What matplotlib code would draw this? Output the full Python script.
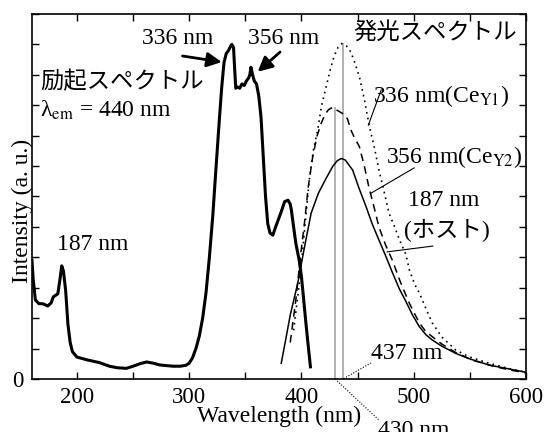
import matplotlib
matplotlib.use("Agg")
import matplotlib.pyplot as plt
import numpy as np

plt.rcParams['font.family'] = ['Liberation Serif', 'Noto Sans CJK JP']
plt.rcParams['mathtext.fontset'] = 'stix'

# Excitation spectrum (lambda_em = 440 nm)
exc_wl = [160, 161, 163, 166, 170, 174, 177, 179, 183, 185, 186.5, 188, 190, 192, 194, 196,
          200, 210, 220, 229, 236, 244, 250, 256, 262, 268, 274, 280, 286, 292, 297, 300,
          303, 306, 309, 312, 315, 318, 321, 324, 327, 329, 331, 333, 335, 337, 338, 339.5,
          340.5, 341.5, 343, 345, 347, 349, 351, 353, 354, 355, 356.5, 358, 360, 362, 364,
          366, 368, 370, 372, 374.5, 377, 379, 382, 385, 388, 390, 391, 393, 395, 398, 400,
          402, 404, 406, 408]
exc_int = [3.9, 3.3, 2.6, 2.48, 2.47, 2.40, 2.5, 2.7, 2.8, 3.3, 3.72, 3.55, 2.9, 1.8, 1.2, 0.9,
           0.72, 0.62, 0.54, 0.42, 0.37, 0.35, 0.42, 0.5, 0.56, 0.52, 0.46, 0.44, 0.42, 0.42, 0.45, 0.52,
           0.70, 1.0, 1.41, 2.0, 2.84, 4.0, 5.36, 7.0, 8.6, 9.6, 10.4, 10.7, 10.8, 10.95, 11.0, 10.9,
           10.2, 9.56, 9.6, 9.56, 9.7, 9.65, 9.8, 9.9, 10.0, 10.25, 10.0, 9.8, 9.7, 9.3, 8.6,
           7.3, 6.0, 5.1, 4.8, 4.73, 5.0, 5.2, 5.5, 5.83, 5.88, 5.75, 5.56, 5.0, 4.46, 3.9, 3.36,
           2.6, 1.83, 1.1, 0.40]

# Emission, 187 nm excitation (host)
em187_wl = [382, 386, 390, 396.7, 402, 408.6, 415, 422, 428, 432, 435.5, 439, 442, 445.6, 451,
            457.5, 463, 469, 475, 481, 487, 493, 499, 505, 511, 516.6, 525, 537.5, 550, 567, 585, 600]
em187_int = [0.52, 1.3, 2.1, 3.15, 4.2, 5.45, 6.1, 6.6, 7.0, 7.18, 7.25, 7.2, 7.05, 6.87, 6.3,
             5.67, 5.1, 4.57, 4.05, 3.5, 2.98, 2.55, 2.1, 1.72, 1.45, 1.28, 1.08, 0.84, 0.66, 0.46, 0.33, 0.22]

# Emission, 356 nm excitation (Ce Y2)
em356_wl = [390, 395, 399, 402.7, 406, 410, 414, 417.5, 421, 424, 426, 428.5, 431, 433.8, 438, 441,
            444, 447, 451.6, 456, 460, 465, 469, 475, 481, 488, 496, 505, 511, 516.6, 525, 537, 552,
            570, 585, 600]
em356_int = [1.2, 2.6, 4.0, 5.13, 6.3, 7.3, 8.0, 8.4, 8.7, 8.85, 8.9, 8.93, 8.85, 8.79, 8.7, 8.55,
             8.19, 7.95, 7.64, 7.0, 6.32, 5.6, 5.0, 4.4, 3.9, 3.2, 2.5, 1.84, 1.55, 1.39, 1.15, 0.88, 0.62,
             0.43, 0.3, 0.2]

# Emission, 336 nm excitation (Ce Y1)
em336_wl = [393, 397, 400, 403, 407, 410.5, 414.5, 418, 422, 425.5, 429, 432.5, 436, 440, 444,
            447.5, 451.6, 456, 460, 465, 469, 474, 478, 483, 487, 493, 496, 501, 505, 511, 516.6,
            525, 537.5, 550, 567, 583, 600]
em336_int = [1.6, 2.8, 3.8, 5.0, 6.54, 7.5, 8.2, 9.0, 9.6, 10.15, 10.6, 10.9, 11.03, 10.95, 10.75,
             10.4, 9.94, 9.2, 8.4, 7.6, 6.87, 6.1, 5.45, 5.0, 4.6, 4.1, 3.6, 3.1, 2.83, 2.3, 1.84,
             1.38, 0.95, 0.72, 0.52, 0.36, 0.22]

peak_wl = [430, 437]
peak_top = [8.9, 11.03]

xticks_major = [200, 300, 400, 500, 600]

fig = plt.figure(figsize=(5.44, 4.32), dpi=100)
ax = fig.add_axes([32/544, 1-379/432, (526-32)/544, (379-14)/432])

ax.plot(exc_wl, exc_int, color='k', lw=2.2, solid_joinstyle='round')
ax.plot(em187_wl, em187_int, color='k', lw=1.1)
ax.plot(em356_wl, em356_int, color='k', lw=1.1, ls=(0, (5, 3.5)))
ax.plot(em336_wl, em336_int, color='k', lw=1.2, ls=(0, (1, 2.5)))
for wl, top in zip(peak_wl, peak_top):
    ax.plot([wl, wl], [0, top], color='#aaaaaa', lw=1.3, zorder=1)

ax.set_xlim(160, 600)
ax.set_ylim(0, 12)
ax.set_xticks(np.arange(200, 601, 50))
ax.set_xticklabels([str(int(v)) if v in xticks_major else '' for v in np.arange(200, 601, 50)])
ax.set_yticks(np.arange(0, 13, 1))
ax.set_yticklabels(['0'] + [''] * 12)
ax.tick_params(direction='in', length=5, width=1, top=True, right=True, labelsize=16.5, pad=6)
for s in ax.spines.values():
    s.set_linewidth(1.2)

fs = 17
jfs = 16.8
ax.text(289.3, 11.2, '336 nm', fontsize=fs, ha='center', va='center')
ax.text(384.4, 11.2, '356 nm', fontsize=fs, ha='center', va='center')
arr = dict(arrowstyle='-|>', lw=2, color='k', mutation_scale=22, shrinkA=0, shrinkB=0)
ax.annotate('', xy=(329, 10.42), xytext=(294, 10.62), arrowprops=arr)
ax.annotate('', xy=(361, 10.1), xytext=(381, 10.75), arrowprops=arr)

ax.text(167, 9.76, '励起スペクトル', fontsize=jfs, ha='left', va='center')
ax.text(167, 8.84, 'λ$_{\\mathrm{em}}$ = 440 nm', fontsize=fs, ha='left', va='center')
ax.text(446, 11.34, '発光スペクトル', fontsize=jfs, ha='left', va='center')

ax.text(464, 9.3, r'336 nm(Ce$_{\mathrm{Y1}}$)', fontsize=fs, ha='left', va='center')
ax.plot([471, 459.6], [9.5, 8.35], color='k', lw=0.8)
ax.text(475.6, 7.3, r'356 nm(Ce$_{\mathrm{Y2}}$)', fontsize=fs, ha='left', va='center')
ax.plot([500.4, 462], [6.94, 6.11], color='k', lw=0.8)
ax.text(495, 5.88, '187 nm', fontsize=fs, ha='left', va='center')
ax.text(491.6, 4.87, '(ホスト)', fontsize=jfs, ha='left', va='center')
ax.plot([517, 476.4], [4.37, 4.18], color='k', lw=0.8)

ax.text(213.8, 4.42, '187 nm', fontsize=fs, ha='center', va='center')

ax.text(493.3, 0.85, '437 nm', fontsize=fs, ha='center', va='center')
ax.plot([462, 437], [0.53, 0.0], color='k', lw=0.8, ls=(0, (1, 1.5)), clip_on=False)
ax.text(499.6, -1.68, '430 nm', fontsize=fs, ha='center', va='center', clip_on=False)
ax.plot([430, 469], [0.0, -1.35], color='k', lw=0.8, ls=(0, (1, 1.5)), clip_on=False)

ax.set_xlabel('Wavelength (nm)', fontsize=fs, labelpad=-2)
fig.text(22/544, 1-211/432, 'Intensity (a. u.)', fontsize=fs, rotation=90, ha='center', va='center')

fig.savefig('out.png', dpi=100)
